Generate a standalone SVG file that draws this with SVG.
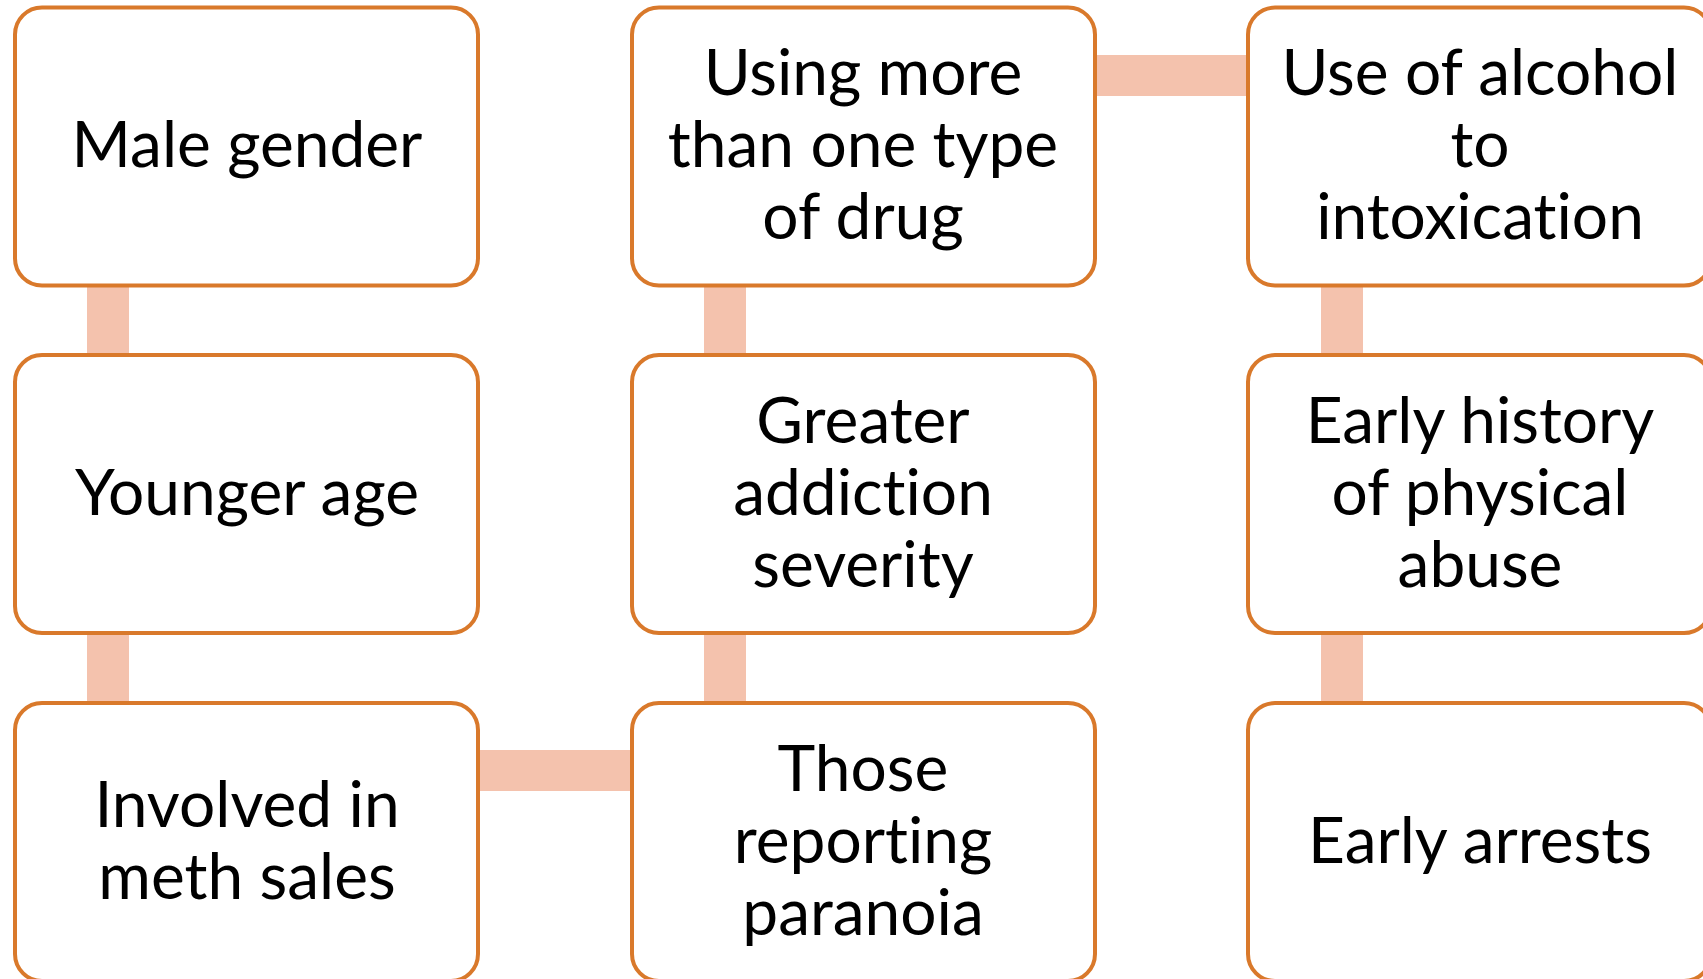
<svg xmlns="http://www.w3.org/2000/svg" width="1703" height="979" viewBox="0 0 1703 979">
<style>
.box{fill:#ffffff;stroke:#D9792B;stroke-width:4}
.bar{fill:#F4C2AD}
text{font-family:Lato,"Noto Sans","Liberation Sans",sans-serif;font-size:64px;fill:#000;text-anchor:middle;font-variant-ligatures:none;font-feature-settings:"liga" 0,"clig" 0}
</style>
<rect width="1703" height="979" fill="#ffffff"/>
<g id="connectors">
<rect class="bar" x="87" y="285" width="42" height="70"/>
<rect class="bar" x="87" y="633" width="42" height="70"/>
<rect class="bar" x="704" y="285" width="42" height="70"/>
<rect class="bar" x="704" y="633" width="42" height="70"/>
<rect class="bar" x="1321" y="285" width="42" height="70"/>
<rect class="bar" x="1321" y="633" width="42" height="70"/>
<rect class="bar" x="1095" y="55" width="153" height="41"/>
<rect class="bar" x="478" y="750" width="153" height="41"/>
</g>
<g id="n1"><rect class="box" x="15" y="7.5" width="463" height="278" rx="27"/><text x="247" y="167">Male gender</text></g>
<g id="n2"><rect class="box" x="15" y="355" width="463" height="278" rx="27"/><text x="247" y="515">Younger age</text></g>
<g id="n3"><rect class="box" x="15" y="703" width="463" height="278" rx="27"/><text x="247" y="827">Involved in</text><text x="247" y="899">meth sales</text></g>
<g id="n4"><rect class="box" x="632" y="7.5" width="463" height="278" rx="27"/><text x="863" y="95">Using more</text><text x="863" y="167">than one type</text><text x="863" y="239">of drug</text></g>
<g id="n5"><rect class="box" x="632" y="355" width="463" height="278" rx="27"/><text x="863" y="443">Greater</text><text x="863" y="515">addiction</text><text x="863" y="587">severity</text></g>
<g id="n6"><rect class="box" x="632" y="703" width="463" height="278" rx="27"/><text x="863" y="791">Those</text><text x="863" y="863">reporting</text><text x="863" y="935">paranoia</text></g>
<g id="n7"><rect class="box" x="1248" y="7.5" width="463" height="278" rx="27"/><text x="1480" y="95">Use of alcohol</text><text x="1480" y="167">to</text><text x="1480" y="239">intoxication</text></g>
<g id="n8"><rect class="box" x="1248" y="355" width="463" height="278" rx="27"/><text x="1480" y="443">Early history</text><text x="1480" y="515">of physical</text><text x="1480" y="587">abuse</text></g>
<g id="n9"><rect class="box" x="1248" y="703" width="463" height="278" rx="27"/><text x="1480" y="863">Early arrests</text></g>
</svg>
